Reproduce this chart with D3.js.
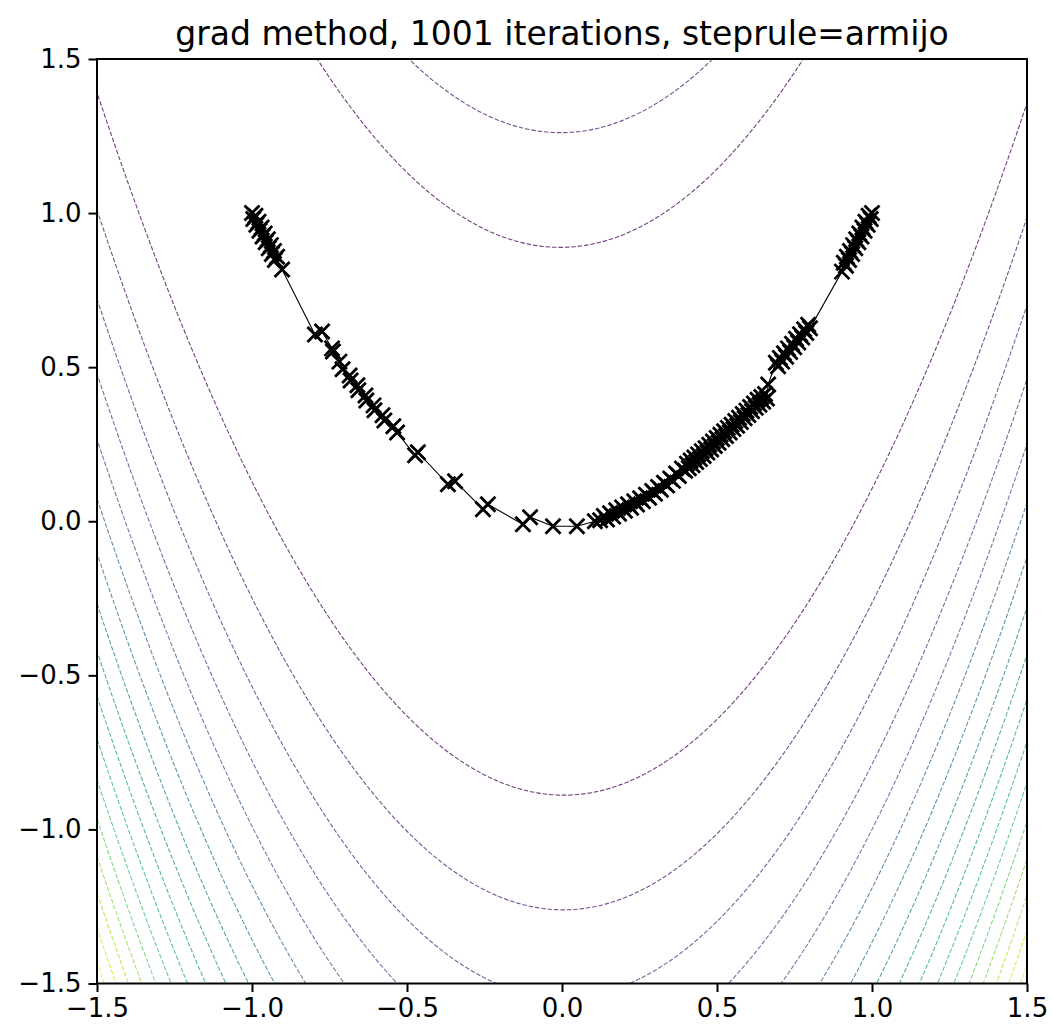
<!DOCTYPE html>
<html>
<head>
<meta charset="utf-8">
<script src="https://cdn.jsdelivr.net/npm/d3@7"></script>
<style>
  body { margin: 0; background: #fff; }
  svg { display: block; }
  text { font-family: "DejaVu Sans", sans-serif; fill: #000; }
</style>
</head>
<body>
<svg id="chart"></svg>
<script>
const width = 1052, height = 1029;
const margin = {left: 97, right: 25, top: 59, bottom: 45.5};

const titleText = "grad method, 1001 iterations, steprule=armijo";
const xTicks = [-1.5, -1.0, -0.5, 0.0, 0.5, 1.0, 1.5];
const yTicks = [-1.5, -1.0, -0.5, 0.0, 0.5, 1.0, 1.5];

// contour levels of the objective
const levels = [80, 160, 240, 320, 400, 480, 560, 640, 720, 800, 880, 960, 1040, 1120, 1200, 1280, 1360];

// iterates (as they appear on the plot; dense clusters estimated)
const iterX = [
  -1.000, -0.989, -0.996, -0.979, -0.986, -0.969, -0.976, -0.959, -0.966, -0.949, -0.956, -0.939, -0.946, -0.929, -0.936, -0.919, -0.926,
  -0.903, -0.797, -0.774, -0.742,
  -0.739, -0.718, -0.708, -0.685, -0.682, -0.660, -0.657, -0.634, -0.631, -0.608, -0.605, -0.579, -0.573, -0.544, -0.532,
  -0.474, -0.465, -0.368, -0.345, -0.255, -0.239, -0.126, -0.103, -0.029, 0.048, 0.106,
  0.123, 0.135, 0.145, 0.155, 0.165, 0.175, 0.184, 0.194, 0.203, 0.213, 0.223, 0.233, 0.242, 0.252, 0.261,
  0.271, 0.281, 0.291, 0.300, 0.310, 0.319, 0.329, 0.339, 0.349, 0.358, 0.368, 0.377, 0.387, 0.397,
  0.403, 0.409, 0.415, 0.421, 0.427, 0.433, 0.439, 0.445, 0.451, 0.457, 0.463, 0.469, 0.475, 0.481, 0.487,
  0.493, 0.499, 0.505, 0.511, 0.517, 0.523, 0.529, 0.535, 0.541, 0.547, 0.553, 0.559, 0.565, 0.571, 0.577,
  0.583, 0.589, 0.595, 0.601, 0.607, 0.613, 0.619, 0.625, 0.631, 0.637, 0.643, 0.649, 0.655, 0.661,
  0.665,
  0.690, 0.697, 0.703, 0.710, 0.716, 0.723, 0.729, 0.736, 0.742, 0.749, 0.755, 0.762, 0.768, 0.775, 0.781, 0.788, 0.794, 0.800,
  0.903,
  0.916, 0.909, 0.926, 0.919, 0.936, 0.929, 0.946, 0.939, 0.956, 0.949, 0.966, 0.959, 0.976, 0.969, 0.986, 0.979, 0.996, 0.989, 1.000
];
const iterY = [
  1.000, 0.991, 0.981, 0.972, 0.962, 0.953, 0.943, 0.934, 0.924, 0.915, 0.905, 0.896, 0.886, 0.877, 0.867, 0.858, 0.848,
  0.817, 0.606, 0.616, 0.561,
  0.551, 0.518, 0.493, 0.473, 0.457, 0.441, 0.425, 0.408, 0.392, 0.376, 0.360, 0.344, 0.327, 0.308, 0.288,
  0.214, 0.224, 0.120, 0.130, 0.039, 0.055, -0.010, 0.013, -0.016, -0.016, 0.000,
  0.003, 0.017, 0.006, 0.026, 0.015, 0.036, 0.024, 0.045, 0.034, 0.055, 0.044, 0.065, 0.054, 0.075, 0.065,
  0.086, 0.076, 0.098, 0.089, 0.111, 0.102, 0.125, 0.116, 0.139, 0.131, 0.155, 0.147, 0.171, 0.164,
  0.187, 0.172, 0.197, 0.182, 0.207, 0.192, 0.217, 0.202, 0.227, 0.212, 0.237, 0.223, 0.248, 0.233, 0.259,
  0.244, 0.270, 0.255, 0.281, 0.266, 0.292, 0.277, 0.303, 0.288, 0.313, 0.299, 0.325, 0.310, 0.336, 0.322,
  0.348, 0.334, 0.359, 0.345, 0.371, 0.357, 0.382, 0.368, 0.394, 0.378, 0.403, 0.388, 0.413, 0.398,
  0.444,
  0.514, 0.503, 0.530, 0.518, 0.545, 0.534, 0.561, 0.549, 0.576, 0.565, 0.592, 0.580, 0.607, 0.596, 0.623, 0.611, 0.638, 0.626,
  0.810,
  0.829, 0.839, 0.848, 0.858, 0.867, 0.877, 0.886, 0.896, 0.905, 0.915, 0.924, 0.934, 0.943, 0.953, 0.962, 0.972, 0.981, 0.991, 1.000
];

function rosen(x, y) {
  return (1 - x) * (1 - x) + 100 * (y - x * x) * (y - x * x);
}

const svg = d3.select("#chart")
  .attr("width", width)
  .attr("height", height);

const x = d3.scaleLinear().domain([-1.5, 1.5]).range([margin.left, width - margin.right]);
const y = d3.scaleLinear().domain([-1.5, 1.5]).range([height - margin.bottom, margin.top]);

svg.append("defs").append("clipPath").attr("id", "plot-clip")
  .append("rect")
  .attr("x", x(-1.5)).attr("y", y(1.5))
  .attr("width", x(1.5) - x(-1.5)).attr("height", y(-1.5) - y(1.5));

// grid of objective values, a little wider than the view
const step = 0.01, g0 = -1.56;
const n = Math.round((1.56 - g0) / step) + 1;
const values = new Array(n * n);
for (let j = 0; j < n; j++) {
  for (let i = 0; i < n; i++) {
    values[j * n + i] = rosen(g0 + i * step, g0 + j * step);
  }
}

const contourGen = d3.contours().size([n, n]).thresholds(levels);
const gridPath = d3.geoPath(d3.geoTransform({
  point: function(px, py) {
    this.stream.point(x(g0 + (px - 0.5) * step), y(g0 + (py - 0.5) * step));
  }
}));

const colorT = d3.scaleLinear().domain([d3.min(levels), d3.max(levels)]).range([0, 1]);

svg.append("g")
  .attr("clip-path", "url(#plot-clip)")
  .selectAll("path")
  .data(contourGen(values))
  .join("path")
  .attr("d", gridPath)
  .attr("fill", "none")
  .attr("stroke", d => d3.interpolateViridis(colorT(d.value)))
  .attr("stroke-opacity", 0.75)
  .attr("stroke-width", 1.1)
  .attr("stroke-dasharray", "4.5,1.9");

// iterate path
const pts = iterX.map((v, i) => [v, iterY[i]]);
svg.append("path")
  .datum(pts)
  .attr("fill", "none")
  .attr("stroke", "#000")
  .attr("stroke-width", 1.1)
  .attr("d", d3.line().x(d => x(d[0])).y(d => y(d[1])));

const m = 7.5;
svg.append("g")
  .selectAll("path")
  .data(pts)
  .join("path")
  .attr("transform", d => `translate(${x(d[0])},${y(d[1])})`)
  .attr("d", `M${-m},${-m}L${m},${m}M${-m},${m}L${m},${-m}`)
  .attr("stroke", "#000")
  .attr("stroke-width", 2.8)
  .attr("fill", "none");

// axes
const fmt = v => d3.format(".1f")(v).replace("-", "\u2212");
const xAxis = svg.append("g")
  .attr("transform", `translate(0,${y(-1.5)})`)
  .call(d3.axisBottom(x).tickValues(xTicks).tickFormat(fmt).tickSizeOuter(0).tickSize(8.5).tickPadding(7));
const yAxis = svg.append("g")
  .attr("transform", `translate(${x(-1.5)},0)`)
  .call(d3.axisLeft(y).tickValues(yTicks).tickFormat(fmt).tickSizeOuter(0).tickSize(8.5).tickPadding(7));
[xAxis, yAxis].forEach(a => {
  a.select(".domain").remove();
  a.selectAll("line").attr("stroke", "#000").attr("stroke-width", 2);
  a.selectAll("text").attr("font-size", 26).attr("font-family", "DejaVu Sans").attr("fill", "#000");
});

// frame
svg.append("rect")
  .attr("x", x(-1.5)).attr("y", y(1.5))
  .attr("width", x(1.5) - x(-1.5)).attr("height", y(-1.5) - y(1.5))
  .attr("fill", "none")
  .attr("stroke", "#000")
  .attr("stroke-width", 2);

svg.append("text")
  .attr("x", (x(-1.5) + x(1.5)) / 2)
  .attr("y", 45)
  .attr("text-anchor", "middle")
  .attr("font-size", 33)
  .text(titleText);
</script>
</body>
</html>
